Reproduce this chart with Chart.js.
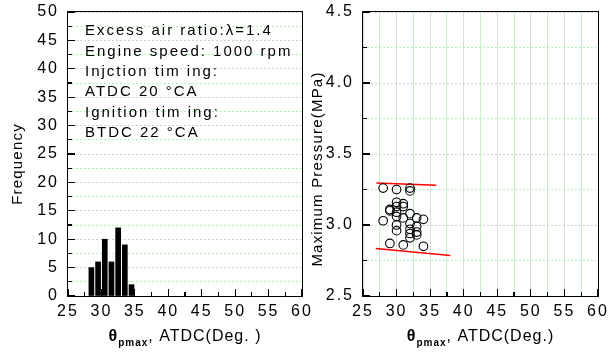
<!DOCTYPE html>
<html>
<head>
<meta charset="utf-8">
<script src="https://cdn.jsdelivr.net/npm/chart.js@4.4.1/dist/chart.umd.min.js"></script>
<style>
body{margin:0;background:#fff;width:608px;height:356px;overflow:hidden;position:relative}
canvas{position:absolute;top:0}
#izq{left:0}
#der{left:306px}
.marco{position:absolute;box-sizing:border-box;border:1.6px solid #000;z-index:5}
.tick{position:absolute;background:#000;z-index:5}
</style>
</head>
<body>
<canvas id="izq" width="320" height="356"></canvas>
<canvas id="der" width="302" height="356"></canvas>
<script>
// histograma de theta_pmax (centro de cada barra y frecuencia)
const angulosHist = [28.5, 29.5, 30.5, 31.5, 32.5, 33.5, 34.5];
const frecuencias = [5, 6, 10, 6, 12, 9, 2];

// presion maxima vs theta_pmax
const angulosP = [28, 28, 29, 29, 29, 30, 30, 30, 30, 30, 30, 30,
  31, 31, 31, 31, 32, 32, 32, 32, 32, 32, 32, 33, 33, 33, 33, 34, 34];
const presiones = [3.26, 3.03, 3.11, 3.10, 2.87, 3.25, 3.16, 3.13, 3.09, 3.06, 3.00, 2.96,
  3.15, 3.13, 3.05, 2.86, 3.26, 3.24, 3.08, 3.01, 2.97, 2.94, 2.91, 3.05, 2.99, 2.95, 2.93, 3.04, 2.85];

// lineas rojas (limites)
const limSupX = [27.0, 35.9];
const limSupY = [3.295, 3.28];
const limInfX = [26.9, 38.0];
const limInfY = [2.835, 2.785];

// etiquetas de ejes
const ticksX = [25, 30, 35, 40, 45, 50, 55, 60];
const ticksFrec = [0, 5, 10, 15, 20, 25, 30, 35, 40, 45, 50];
const ticksPres = [2.5, 3.0, 3.5, 4.0, 4.5];

const notas = ['Excess air ratio:\u03bb=1.4', 'Engine speed: 1000 rpm', 'Injction tim ing:',
  'ATDC 20 \u00b0CA', 'Ignition tim ing:', 'BTDC 22 \u00b0CA'];

const FUENTE = '"Liberation Sans", Arial, sans-serif';
const gris = '#cfcfcf';
const verde = '#b8f0b8';

const esMayor = (v, lista) => lista.some(t => Math.abs(t - v) < 1e-6);

const sinPadX = s => { s.height = 60; s.paddingLeft = 0; s.paddingRight = 0; };

const textos = {
  id: 'textos',
  beforeDraw(chart) { chart.ctx.letterSpacing = '2px'; },
  afterDraw(chart, args, opts) {
    const ctx = chart.ctx, a = chart.chartArea;
    ctx.save();
    ctx.fillStyle = '#000';
    // titulo eje x con subindice
    const base = opts.tituloY;
    ctx.letterSpacing = '1px';
    ctx.font = 'bold 16px ' + FUENTE;
    const w1 = ctx.measureText('\u03b8').width;
    ctx.font = 'bold 10px ' + FUENTE;
    const w2 = ctx.measureText('pmax').width;
    ctx.font = '16px ' + FUENTE;
    const w3 = ctx.measureText(opts.tituloX).width;
    let x0 = (a.left + a.right) / 2 - (w1 + w2 + w3) / 2;
    ctx.textBaseline = 'alphabetic';
    ctx.textAlign = 'left';
    ctx.font = 'bold 16px ' + FUENTE;
    ctx.fillText('\u03b8', x0, base);
    ctx.font = 'bold 10px ' + FUENTE;
    ctx.fillText('pmax', x0 + w1, base + 5);
    ctx.font = '16px ' + FUENTE;
    ctx.fillText(opts.tituloX, x0 + w1 + w2, base);

    // titulo eje y
    ctx.save();
    ctx.translate(opts.tituloVX, opts.centroY);
    ctx.rotate(-Math.PI / 2);
    ctx.textAlign = 'center';
    ctx.textBaseline = 'middle';
    ctx.letterSpacing = '1.2px';
    ctx.font = '15px ' + FUENTE;
    ctx.fillText(opts.tituloV, 0, 0);
    ctx.restore();

    // notas
    if (opts.notas) {
      ctx.font = '15px ' + FUENTE;
      ctx.letterSpacing = '2px';
      ctx.textBaseline = 'middle';
      opts.notas.forEach((n, i) => ctx.fillText(n, a.left + 17, a.top + 19 + i * 20.4));
    }
    ctx.restore();
  }
};

// marco y ticks hacia adentro, sacados de las escalas del grafico
function marcoYTicks(chart, izq) {
  const a = chart.chartArea;
  const sx = chart.scales.x, sy = chart.scales.y;
  const caja = document.createElement('div');
  caja.className = 'marco';
  caja.style.left = (izq + a.left - 0.8) + 'px';
  caja.style.top = (a.top - 0.8) + 'px';
  caja.style.width = (a.right - a.left + 1.6) + 'px';
  caja.style.height = (a.bottom - a.top + 1.6) + 'px';
  document.body.appendChild(caja);
  sx.ticks.forEach(t => {
    const px = sx.getPixelForValue(t.value);
    const len = t.label ? 7 : 4;
    const d = document.createElement('div');
    d.className = 'tick';
    d.style.left = (izq + px - 0.6) + 'px';
    d.style.top = (a.bottom - len) + 'px';
    d.style.width = '1.2px';
    d.style.height = len + 'px';
    document.body.appendChild(d);
  });
  sy.ticks.forEach(t => {
    const py = sy.getPixelForValue(t.value);
    const len = t.label ? 7 : 4;
    const d = document.createElement('div');
    d.className = 'tick';
    d.style.left = (izq + a.left) + 'px';
    d.style.top = (py - 0.6) + 'px';
    d.style.width = len + 'px';
    d.style.height = '1.2px';
    document.body.appendChild(d);
  });
}

Chart.defaults.font.family = FUENTE;
Chart.defaults.font.size = 16;
Chart.defaults.color = '#000';

const grafIzq = new Chart(document.getElementById('izq'), {
  type: 'bar',
  data: {
    datasets: [{
      data: angulosHist.map((x, i) => ({ x: x, y: frecuencias[i] })),
      backgroundColor: '#000',
      borderWidth: 0,
      barThickness: 5
    }]
  },
  options: {
    responsive: false,
    animation: false,
    layout: { padding: { left: 0, right: 18, top: 12, bottom: 0 } },
    plugins: {
      legend: { display: false },
      tooltip: { enabled: false },
      textos: { tituloX: ', ATDC(Deg. )', tituloV: 'Frequency', tituloVX: 17.5, tituloY: 341, centroY: 164, notas: notas }
    },
    scales: {
      x: {
        type: 'linear', min: 25, max: 60, offset: false,
        afterFit: sinPadX,
        ticks: { stepSize: 2.5, autoSkip: false, maxRotation: 0, padding: 6,
          callback: v => esMayor(v, ticksX) ? String(v) : '' },
        grid: { display: false, drawTicks: false, offset: false },
        border: { display: false }
      },
      y: {
        min: 0, max: 50,
        afterFit: s => { s.width = 68; s.paddingTop = 0; s.paddingBottom = 0; },
        ticks: { stepSize: 2.5, autoSkip: false, padding: 9,
          callback: v => esMayor(v, ticksFrec) ? String(v) : '' },
        grid: { drawTicks: false, lineWidth: 1,
          color: c => esMayor(c.tick.value, ticksFrec) ? gris : verde },
        border: { display: false, dash: [2, 2] }
      }
    }
  },
  plugins: [textos]
});

const grafDer = new Chart(document.getElementById('der'), {
  type: 'scatter',
  data: {
    datasets: [{
      data: angulosP.map((x, i) => ({ x: x, y: presiones[i] })),
      pointRadius: 4.3,
      pointBackgroundColor: 'rgba(0,0,0,0)',
      pointBorderColor: '#000',
      pointBorderWidth: 1.1
    }, {
      type: 'line',
      data: limSupX.map((x, i) => ({ x: x, y: limSupY[i] })),
      borderColor: '#ff0000', borderWidth: 1.5, pointRadius: 0, showLine: true
    }, {
      type: 'line',
      data: limInfX.map((x, i) => ({ x: x, y: limInfY[i] })),
      borderColor: '#ff0000', borderWidth: 1.5, pointRadius: 0, showLine: true
    }]
  },
  options: {
    responsive: false,
    animation: false,
    layout: { padding: { left: 0, right: 10, top: 12, bottom: 0 } },
    plugins: {
      legend: { display: false },
      tooltip: { enabled: false },
      textos: { tituloX: ', ATDC(Deg.)', tituloV: 'Maximum Pressure(MPa)', tituloVX: 11.5, tituloY: 341, centroY: 169 }
    },
    scales: {
      x: {
        type: 'linear', min: 25, max: 60,
        afterFit: sinPadX,
        ticks: { stepSize: 2.5, autoSkip: false, maxRotation: 0, padding: 6,
          callback: v => esMayor(v, ticksX) ? String(v) : '' },
        grid: { drawTicks: false, lineWidth: 1,
          color: c => esMayor(c.tick.value, ticksX) ? '#dcdcdc' : '#c4f4c4' },
        border: { display: false }
      },
      y: {
        min: 2.5, max: 4.5,
        afterFit: s => { s.width = 57; s.paddingTop = 0; s.paddingBottom = 0; },
        ticks: { stepSize: 0.25, autoSkip: false, padding: 9,
          callback: v => esMayor(v, ticksPres) ? v.toFixed(1) : '' },
        grid: { drawTicks: false, lineWidth: 1,
          color: c => esMayor(c.tick.value, ticksPres) ? gris : verde },
        border: { display: false, dash: [2, 2] }
      }
    }
  },
  plugins: [textos]
});

marcoYTicks(grafIzq, 0);
marcoYTicks(grafDer, 306);
</script>
</body>
</html>
